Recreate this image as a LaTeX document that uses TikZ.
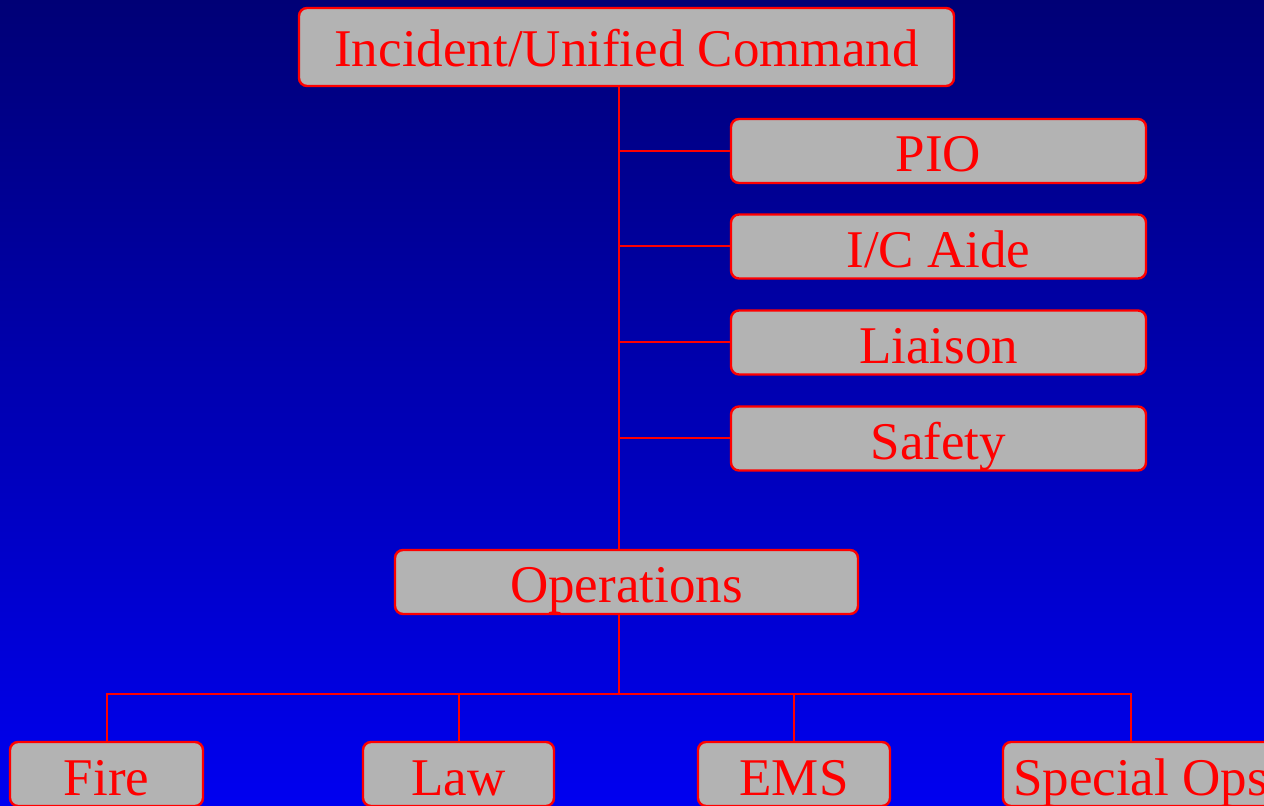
\documentclass[tikz,border=0pt]{standalone}
\usepackage{fontspec}
\setmainfont{Liberation Serif}
\usetikzlibrary{positioning}

\definecolor{boxgray}{RGB}{179,179,179}
\definecolor{topblue}{RGB}{0,0,118}
\definecolor{lowblue}{RGB}{0,0,240}

\tikzset{
  box/.style={draw=red,fill=boxgray,line width=1.2pt,rounded corners=4pt,
    inner sep=0pt,text=red,font=\fontsize{26.5}{30}\selectfont,
    text height=26.5pt,text depth=5.5pt,align=center},
  link/.style={draw=red,line width=1pt}
}

\begin{document}
\begin{tikzpicture}[x=0.5pt,y=-0.5pt]
        \useasboundingbox (0,0) rectangle (1264,806);
        \shade[top color=topblue,bottom color=lowblue] (0,0) rectangle (1264,806);
        % staff
        \node [box,text height=29.5pt,text depth=9.5pt,minimum width=327.5pt] (cmd) at (626.5,47) {Incident/Unified Command};
        \node [box,minimum width=207.5pt] (pio) at (938.5,151) {PIO};
        \node [box,minimum width=207.5pt] (aide) at (938.5,246.5) {I/C Aide};
        \node [box,minimum width=207.5pt] (liaison) at (938.5,342.5) {Liaison};
        \node [box,minimum width=207.5pt] (safety) at (938.5,438.5) {Safety};
        \node [box,minimum width=231.5pt] (ops) at (626.5,582) {Operations};
        % branches
        \node [box,minimum width=96.5pt] (fire) at (106.5,774) {Fire};
        \node [box,minimum width=95.5pt] (law) at (458.5,774) {Law};
        \node [box,minimum width=96pt] (ems) at (794,774) {EMS};
        \node [box,minimum width=137.5pt] (spec) at (1140.5,774) {Special Ops};
        \coordinate (trunk) at (619,0);
        \coordinate (bus) at (619,694);
        \coordinate (specjoin) at (1131,742);
        \draw[link] (cmd.south -| trunk) -- (ops.north -| trunk);
        \draw[link] (pio.west -| trunk) -- (pio.west);
        \draw[link] (aide.west -| trunk) -- (aide.west);
        \draw[link] (liaison.west -| trunk) -- (liaison.west);
        \draw[link] (safety.west -| trunk) -- (safety.west);
        \draw[link] (ops.south -| trunk) -- (bus);
        \draw[link] (fire.north) -- (fire.north |- bus) -- (specjoin |- bus) -- (specjoin);
        \draw[link] (law.north |- bus) -- (law.north);
        \draw[link] (ems.north |- bus) -- (ems.north);
\end{tikzpicture}
\end{document}
